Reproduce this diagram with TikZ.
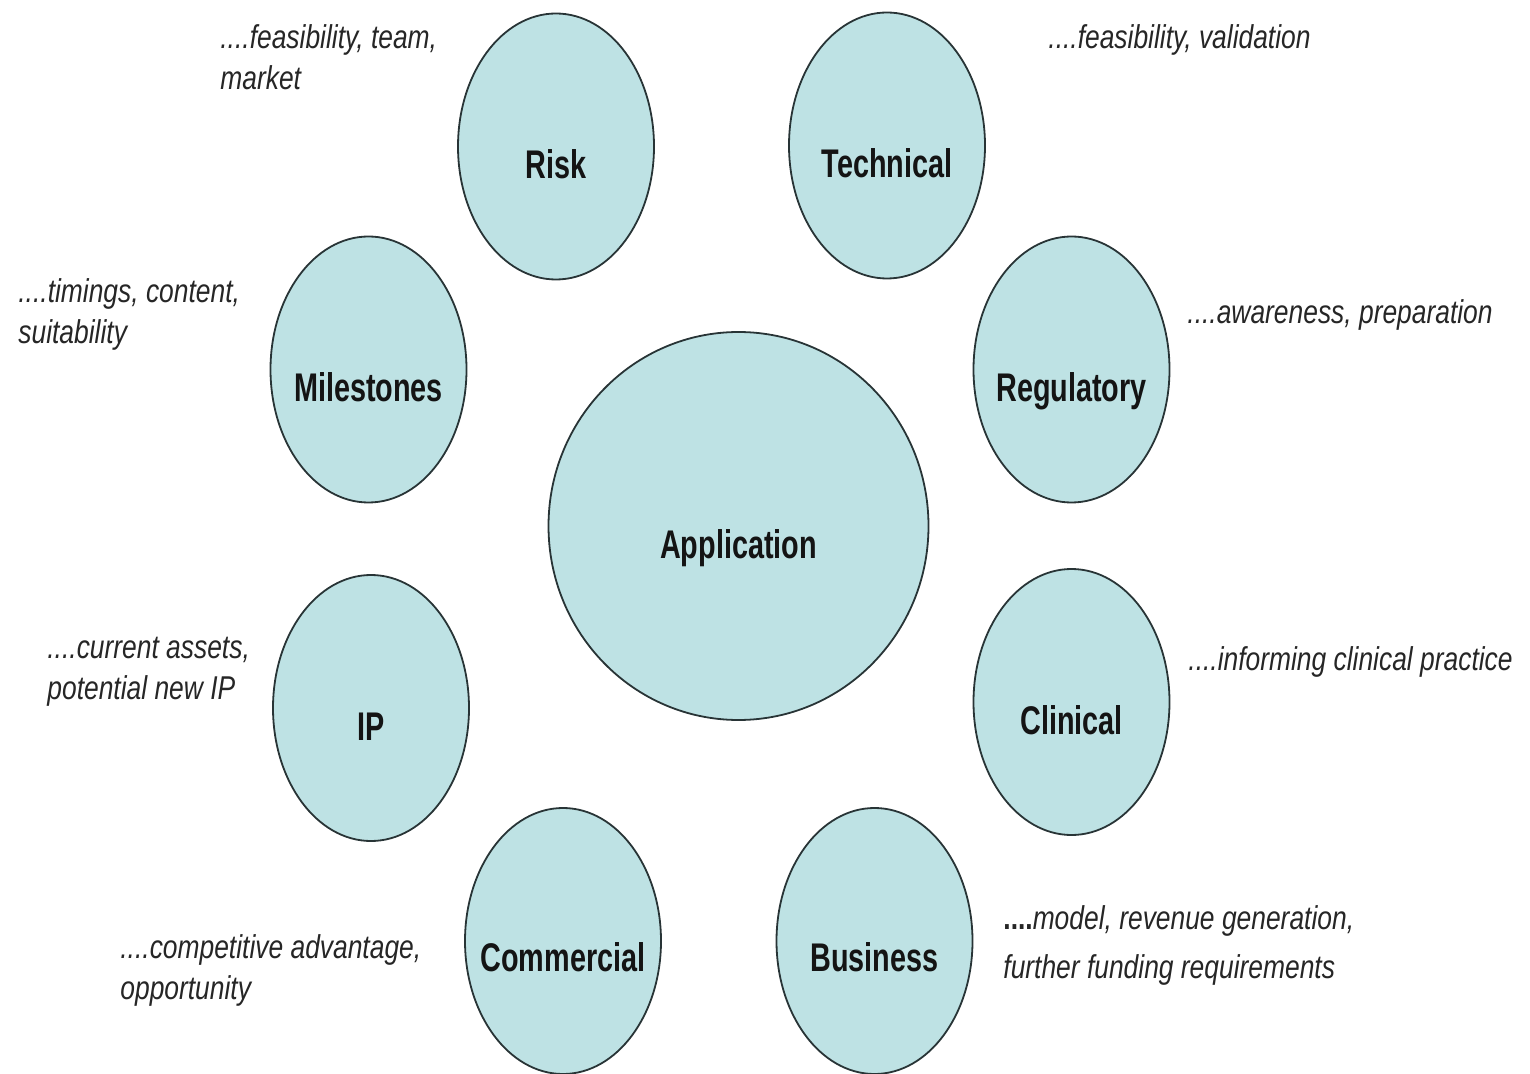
\documentclass[tikz,border=0pt]{standalone}
\usepackage{fontspec}
\setmainfont{Liberation Sans}
\newfontfamily\bubblefont[FakeStretch=0.72]{Liberation Sans}
\newfontfamily\notefont[FakeStretch=0.8]{Liberation Sans}
\usetikzlibrary{shapes.geometric}
\definecolor{bubblefill}{RGB}{190,226,228}
\definecolor{bubbleline}{RGB}{40,52,54}
\tikzset{
  bubble/.style={ellipse,draw=bubbleline,line width=0.9pt,fill=bubblefill,inner sep=0pt,
    minimum width=98pt,minimum height=133pt},
  bigbubble/.style={bubble,minimum width=190pt,minimum height=194pt},
  tag/.style={inner sep=0pt,text height=14.3pt,text depth=0pt,text=black!92,
    font=\bubblefont\bfseries\fontsize{20}{24}\selectfont},
  note/.style={anchor=base west,align=left,inner sep=0pt,text=black!85,
    font=\notefont\itshape\fontsize{16.5}{20.5}\selectfont},
}
\begin{document}
\begin{tikzpicture}[x=0.5pt,y=-0.5pt]
%%
\useasboundingbox (0,0) rectangle (1530,1074);
\node (application) at (738.5,526) [bigbubble] {};
  \node (risk) at (556,146.5) [bubble] {};
  \node (technical) at (887,145.5) [bubble] {};
  \node (milestones) at (368.5,369.5) [bubble] {};
  \node (regulatory) at (1071.5,369.5) [bubble] {};
  \node (ip) at (371,708) [bubble] {};
  \node (clinical) at (1071.5,702) [bubble] {};
  \node (commercial) at (563,941) [bubble] {};
  \node (business) at (874.5,941) [bubble] {};
  \node (application text) at ([yshift=-9pt]application.center) [tag] {Application};
  \node (risk text) at ([yshift=-9pt]risk.center) [tag] {Risk};
  \node (technical text) at ([yshift=-9pt]technical.center) [tag] {Technical};
  \node (milestones text) at ([yshift=-9pt]milestones.center) [tag] {Milestones};
  \node (regulatory text) at ([yshift=-9pt]regulatory.center) [tag] {Regulatory};
  \node (ip text) at ([yshift=-9pt]ip.center) [tag] {IP};
  \node (clinical text) at ([yshift=-9pt]clinical.center) [tag] {Clinical};
  \node (commercial text) at ([yshift=-8pt]commercial.center) [tag] {Commercial};
  \node (business text) at ([yshift=-8pt]business.center) [tag] {Business};
  % base of a two-line note is its last line
  \node (risk note) at (220,90) [note] {....feasibility, team,\\market};
  \node (technical note) at (1048,49) [note] {....feasibility, validation};
  \node (milestones note) at (18,344) [note] {....timings, content,\\suitability};
  \node (regulatory note) at (1187,324) [note] {....awareness, preparation};
  \node (ip note) at (47,699) [note] {....current assets,\\potential new IP};
  \node (clinical note) at (1188,670) [note] {....informing clinical practice};
  \node (commercial note) at (120,999) [note] {....competitive advantage,\\opportunity};
  \node (business note) at (1003,978) [note] {{\upshape\bfseries ....}model, revenue generation,\\[4pt]further funding requirements};
%
\end{tikzpicture}
\end{document}
